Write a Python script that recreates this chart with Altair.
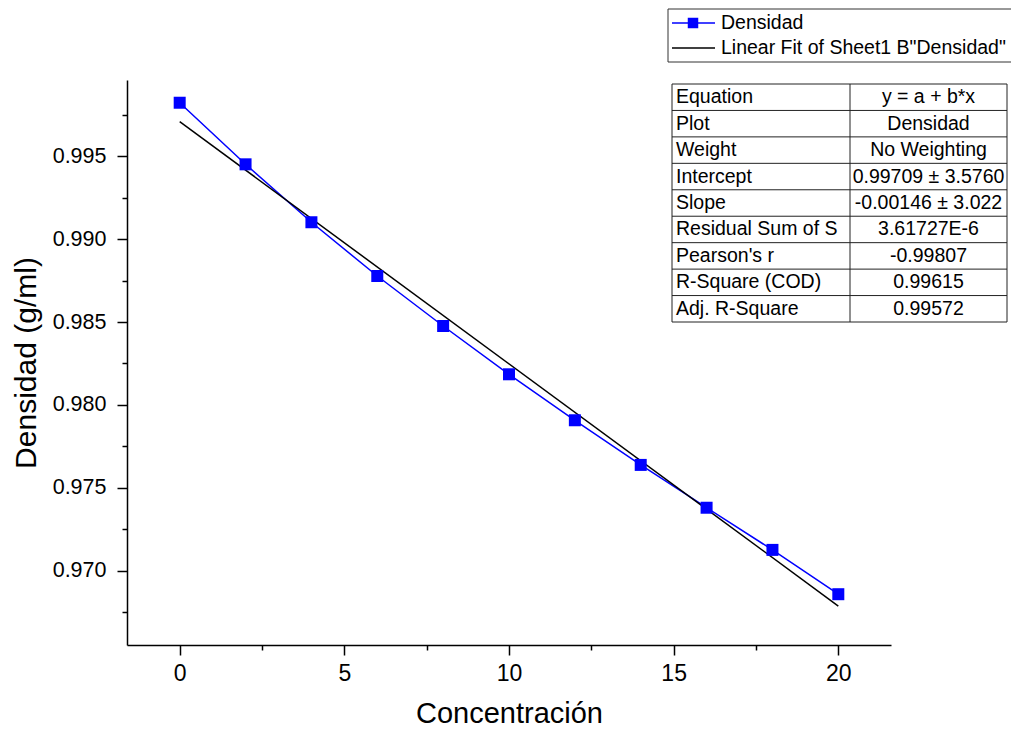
import altair as alt
import pandas as pd

# ---- data ----
concentracion = [0, 2, 4, 6, 8, 10, 12, 14, 16, 18, 20]
densidad = [0.99821, 0.99450, 0.99101, 0.98777, 0.98476, 0.98185,
            0.97908, 0.97639, 0.97381, 0.97127, 0.96860]

x_major = [0, 5, 10, 15, 20]
x_minor = [2.5, 7.5, 12.5, 17.5]
y_major = [0.970, 0.975, 0.980, 0.985, 0.990, 0.995]
y_minor = [0.9675, 0.9725, 0.9775, 0.9825, 0.9875, 0.9925, 0.9975]

table_params = ["Equation", "Plot", "Weight", "Intercept", "Slope",
                "Residual Sum of S", "Pearson's r", "R-Square (COD)", "Adj. R-Square"]
table_values = ["y = a + b*x", "Densidad", "No Weighting", "0.99709 ± 3.5760",
                "-0.00146 ± 3.022", "3.61727E-6", "-0.99807", "0.99615", "0.99572"]

legend_labels = ["Densidad", 'Linear Fit of Sheet1 B"Densidad"']

FONT = "Liberation Sans, Arial, sans-serif"
BLUE = "#0000FF"

df = pd.DataFrame({"conc": concentracion, "dens": densidad})

xs = alt.Scale(domain=[-1.6, 21.6], nice=False, zero=False)
ys = alt.Scale(domain=[0.96554, 0.99958], nice=False, zero=False)

x_axis = alt.Axis(values=x_major, format="d", orient="bottom", grid=False,
                  domainColor="black", domainWidth=1.5, tickColor="black", tickWidth=1.5,
                  tickSize=10, labelFont=FONT, labelFontSize=23, labelColor="black",
                  labelPadding=7, labelFlush=False, title="Concentración",
                  titleFont=FONT, titleFontSize=29, titleFontWeight="normal",
                  titleColor="black", titlePadding=14)
y_axis = alt.Axis(values=y_major, format=".3f", orient="left", grid=False,
                  domainColor="black", domainWidth=1.5, tickColor="black", tickWidth=1.5,
                  tickSize=10, labelFont=FONT, labelFontSize=21.5, labelColor="black",
                  labelPadding=11, labelFlush=False, title="Densidad (g/ml)",
                  titleFont=FONT, titleFontSize=30, titleFontWeight="normal",
                  titleColor="black", titlePadding=11)
x_axis_minor = alt.Axis(values=x_minor, orient="bottom", grid=False, domain=False,
                        labels=False, tickColor="black", tickWidth=1.5, tickSize=5,
                        title=None)
y_axis_minor = alt.Axis(values=y_minor, orient="left", grid=False, domain=False,
                        labels=False, tickColor="black", tickWidth=1.5, tickSize=5,
                        title=None)

line = alt.Chart(df).mark_line(color=BLUE, strokeWidth=1.5).encode(
    x=alt.X("conc:Q", scale=xs, axis=x_axis),
    y=alt.Y("dens:Q", scale=ys, axis=y_axis),
)
fit = alt.Chart(df).transform_regression("conc", "dens").mark_line(
    color="black", strokeWidth=1.5).encode(
    x=alt.X("conc:Q", scale=xs, axis=None),
    y=alt.Y("dens:Q", scale=ys, axis=None),
)
points = alt.Chart(df).mark_point(shape="square", filled=True, size=144,
                                  color=BLUE, opacity=1).encode(
    x=alt.X("conc:Q", scale=xs, axis=None),
    y=alt.Y("dens:Q", scale=ys, axis=None),
)
minor = alt.Chart(df).mark_point(opacity=0).encode(
    x=alt.X("conc:Q", scale=xs, axis=x_axis_minor),
    y=alt.Y("dens:Q", scale=ys, axis=y_axis_minor),
)
main = alt.layer(line, fit, points, minor).resolve_axis(x="independent", y="independent")

# ---- statistics table (top right) ----
tdf = pd.DataFrame({"row": list(range(len(table_params))),
                    "param": table_params, "value": table_values})
bdf = pd.DataFrame({"b": list(range(len(table_params) + 1))})
t_y = alt.Scale(domain=[0, 9], range=[4, 242], nice=False, zero=False)
T_L, T_M, T_R = 545, 723, 880
one = alt.Data(values=[{}])

t_h = alt.Chart(bdf).mark_rule(color="#222222", strokeWidth=1).encode(
    y=alt.Y("b:Q", scale=t_y, axis=None), x=alt.value(T_L), x2=alt.value(T_R))
t_v = [alt.Chart(one).mark_rule(color="#222222", strokeWidth=1).encode(
    x=alt.value(xv), y=alt.value(4), y2=alt.value(242)) for xv in (T_L, T_M, T_R)]
t_left = alt.Chart(tdf).transform_calculate(rc="datum.row + 0.5").mark_text(
    align="left", baseline="middle", font=FONT, fontSize=19.5, color="black").encode(
    x=alt.value(T_L + 4), y=alt.Y("rc:Q", scale=t_y, axis=None), text="param:N")
t_right = alt.Chart(tdf).transform_calculate(rc="datum.row + 0.5").mark_text(
    align="center", baseline="middle", font=FONT, fontSize=19.5, color="black").encode(
    x=alt.value((T_M + T_R) / 2), y=alt.Y("rc:Q", scale=t_y, axis=None), text="value:N")
table = alt.layer(t_h, *t_v, t_left, t_right)

# ---- legend box (top right, above plot) ----
lg_box = alt.Chart(one).mark_rect(fillOpacity=0, stroke="#333333", strokeWidth=1).encode(
    x=alt.value(541), x2=alt.value(900), y=alt.value(-71), y2=alt.value(-18))
lg_l1 = alt.Chart(one).mark_rule(color=BLUE, strokeWidth=1.5).encode(
    x=alt.value(545), x2=alt.value(588), y=alt.value(-57))
lg_pt = alt.Chart(one).mark_point(shape="square", filled=True, size=110, color=BLUE,
                                  opacity=1).encode(x=alt.value(566), y=alt.value(-57))
lg_l2 = alt.Chart(one).mark_rule(color="black", strokeWidth=1.5).encode(
    x=alt.value(545), x2=alt.value(588), y=alt.value(-32))
lg_t1 = alt.Chart(one).mark_text(align="left", baseline="middle", font=FONT,
                                 fontSize=19.5, color="black").encode(
    x=alt.value(594), y=alt.value(-57), text=alt.value(legend_labels[0]))
lg_t2 = alt.Chart(one).mark_text(align="left", baseline="middle", font=FONT,
                                 fontSize=19.5, color="black").encode(
    x=alt.value(594), y=alt.value(-32), text=alt.value(legend_labels[1]))
legend = alt.layer(lg_box, lg_l1, lg_pt, lg_l2, lg_t1, lg_t2)

chart = alt.layer(main, table, legend).resolve_scale(
    x="independent", y="independent"
).properties(
    width=764, height=565,
    autosize=alt.AutoSizeParams(type="none"),
    padding={"left": 127, "top": 80, "right": 120, "bottom": 86},
    background="white",
).configure_view(stroke=None)

chart.save("out.html", embed_options={"renderer": "svg", "actions": False})
